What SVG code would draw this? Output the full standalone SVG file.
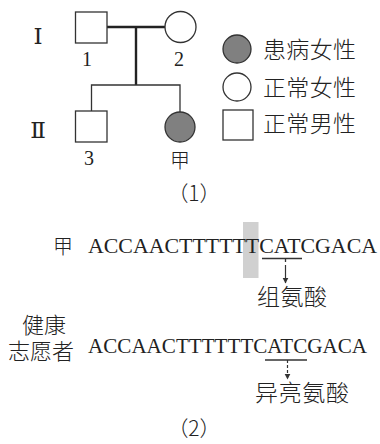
<svg xmlns="http://www.w3.org/2000/svg" width="380" height="444" viewBox="0 0 380 444">
  <style>
    .shape { fill: #ffffff; stroke: #333333; stroke-width: 1.3; }
    .sick { fill: #808080; stroke: #333333; stroke-width: 1.3; }
    .thick { stroke: #222222; stroke-width: 2.4; fill: none; }
    .thin { stroke: #333333; stroke-width: 1.3; fill: none; }
    .roman { font-family: "Liberation Serif", "DejaVu Serif", "Noto Sans CJK SC", serif; font-size: 23px; fill: #222222; }
    .num { font-family: "Liberation Serif", "Times New Roman", serif; font-size: 20px; fill: #222222; }
    .cjk { font-family: "Noto Sans CJK SC", sans-serif; font-weight: 300; fill: #222222; }
    .seq { font-family: "Liberation Serif", "Times New Roman", serif; font-size: 21.7px; fill: #222222; }
    .cap { font-family: "Noto Sans CJK SC", sans-serif; font-weight: 300; font-size: 21px; fill: #222222; }
    .ul { stroke: #333333; stroke-width: 1.3; }
    .arrow { stroke: #333333; stroke-width: 1.2; fill: none; marker-end: url(#head); }
  </style>
  <defs>
    <marker id="head" viewBox="0 0 10 10" refX="9" refY="5" markerWidth="6" markerHeight="7" markerUnits="userSpaceOnUse" orient="auto">
      <path d="M0,0 L10,5 L0,10 Z" fill="#333333"/>
    </marker>
  </defs>

  <!-- pedigree (1) -->
  <g id="connectors">
    <line class="thick" x1="107" y1="27" x2="165" y2="27"/>
    <line class="thick" x1="136" y1="27" x2="136" y2="85"/>
    <polyline class="thin" points="91.5,111 91.5,85 180,85 180,112"/>
  </g>
  <g id="gen1-label"><text class="roman" x="38" y="44" text-anchor="middle">Ⅰ</text></g>
  <g id="gen2-label"><text class="roman" x="38" y="138" text-anchor="middle">Ⅱ</text></g>
  <g id="I-1">
    <rect class="shape" x="75.5" y="12" width="31.5" height="31"/>
    <text class="num" x="87" y="66" text-anchor="middle">1</text>
  </g>
  <g id="I-2">
    <circle class="shape" cx="180.5" cy="27" r="15.5"/>
    <text class="num" x="179" y="66" text-anchor="middle">2</text>
  </g>
  <g id="II-3">
    <rect class="shape" x="75.5" y="111" width="31.5" height="31"/>
    <text class="num" x="89" y="165" text-anchor="middle">3</text>
  </g>
  <g id="II-jia">
    <circle class="sick" cx="180" cy="127" r="15"/>
    <text class="cjk" x="180" y="168" font-size="20" text-anchor="middle">甲</text>
  </g>

  <!-- legend -->
  <g id="legend-sick-female">
    <circle class="sick" cx="237" cy="49" r="14"/>
    <text class="cjk" x="263" y="58" font-size="23" textLength="93" lengthAdjust="spacing">患病女性</text>
  </g>
  <g id="legend-normal-female">
    <circle class="shape" cx="237" cy="87" r="14"/>
    <text class="cjk" x="263" y="95.5" font-size="23" textLength="93" lengthAdjust="spacing">正常女性</text>
  </g>
  <g id="legend-normal-male">
    <rect class="shape" x="223" y="110" width="30" height="30"/>
    <text class="cjk" x="263" y="132" font-size="23" textLength="93" lengthAdjust="spacing">正常男性</text>
  </g>

  <text class="cap" x="194" y="201" text-anchor="middle">（1）</text>

  <!-- sequences (2) -->
  <g id="seq-jia">
    <rect x="243" y="222" width="15.5" height="56" fill="#d0d0d0"/>
    <text class="cjk" x="53" y="254" font-size="20">甲</text>
    <text class="seq" x="88" y="253" textLength="289" lengthAdjust="spacingAndGlyphs">ACCAACTTTTTTCATCGACA</text>
    <line class="ul" x1="262" y1="258.5" x2="302" y2="258.5"/>
    <line class="thin" x1="285.5" y1="258.5" x2="285.5" y2="262"/>
    <line class="arrow" x1="285.5" y1="265" x2="285.5" y2="283"/>
    <text class="cjk" x="257" y="305" font-size="23" textLength="70" lengthAdjust="spacing">组氨酸</text>
  </g>

  <g id="seq-healthy">
    <!-- two-line row label -->
    <text class="cjk" font-size="22">
      <tspan x="22" y="333">健康</tspan>
      <tspan x="8" y="358.5">志愿者</tspan>
    </text>
    <text class="seq" x="88" y="353" textLength="279" lengthAdjust="spacingAndGlyphs">ACCAACTTTTTTCATCGACA</text>
    <line class="ul" x1="265" y1="360" x2="307" y2="360"/>
    <line class="arrow" x1="287.5" y1="360" x2="287.5" y2="379" stroke-dasharray="3 2"/>
    <text class="cjk" x="255" y="401" font-size="23" textLength="94" lengthAdjust="spacing">异亮氨酸</text>
  </g>

  <text class="cap" x="194" y="436" text-anchor="middle">（2）</text>
</svg>
